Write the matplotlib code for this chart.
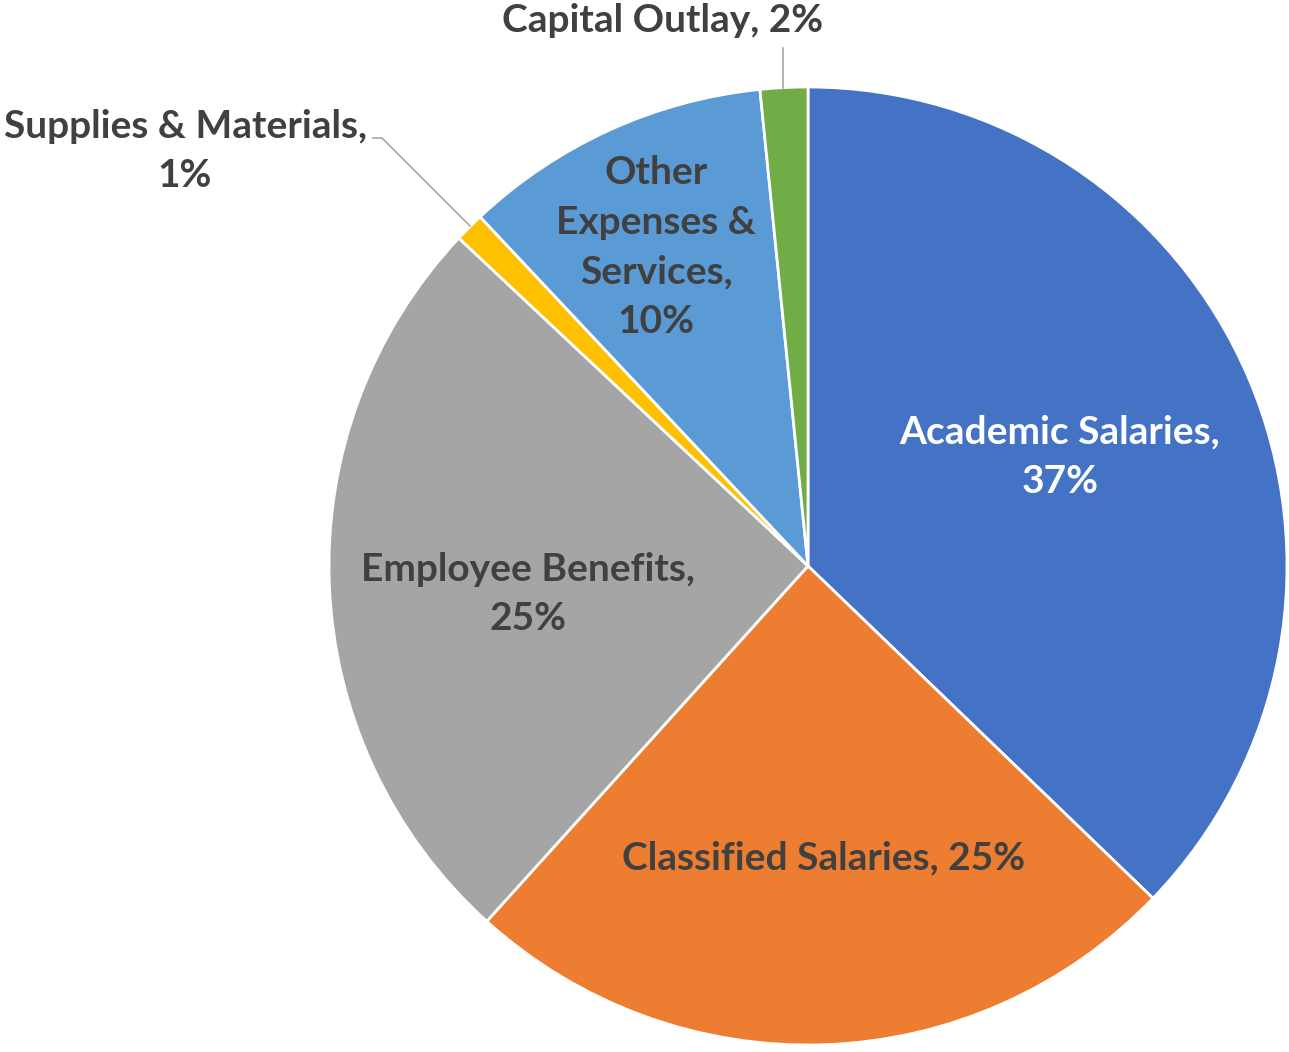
import matplotlib
matplotlib.use("Agg")
import matplotlib.pyplot as plt

categories = ["Academic Salaries", "Classified Salaries", "Employee Benefits",
              "Supplies & Materials", "Other Expenses & Services", "Capital Outlay"]
values = [37.2, 24.5, 25.3, 1.0, 10.4, 1.6]
pct_labels = ["37%", "25%", "25%", "1%", "10%", "2%"]
label_texts = ["Academic Salaries,\n37%", "Classified Salaries, 25%",
               "Employee Benefits,\n25%", "Supplies & Materials,\n1%",
               "Other\nExpenses &\nServices,\n10%", "Capital Outlay, 2%"]
colors = ["#4472C4", "#ED7D31", "#A5A5A5", "#FFC000", "#5B9BD5", "#70AD47"]
text_colors = ["white", "#404040", "#404040", "#404040", "#404040", "#404040"]

W, H = 1289, 1052
CX, CY, R = 808, 566, 479

def px(x, y):
    return ((x - CX) / R, (CY - y) / R)

label_pos_px = [(1060, 457), (824, 858), (528, 594), (185, 151), (656, 247), (663, 20)]

fig = plt.figure(figsize=(W / 100, H / 100), dpi=100)
ax = fig.add_axes([0, 0, 1, 1])

ax.pie(values, colors=colors, startangle=90, counterclock=False, radius=1.0,
       wedgeprops=dict(edgecolor="white", linewidth=2))
ax.set_xlim(-CX / R, (W - CX) / R)
ax.set_ylim((CY - H) / R, CY / R)
ax.set_aspect("equal")
ax.axis("off")

for txt, pos, tc in zip(label_texts, label_pos_px, text_colors):
    x, y = px(*pos)
    ax.text(x, y, txt, ha="center", va="center", color=tc, fontsize=28,
            fontweight="bold", family=["Lato", "DejaVu Sans"], linespacing=1.5)

# leader lines
lx, ly = zip(*[px(373, 138), px(382, 138), px(470, 226)])
ax.plot(lx, ly, color="#A6A6A6", lw=1.2)
lx, ly = zip(*[px(783, 48), px(783, 88)])
ax.plot(lx, ly, color="#A6A6A6", lw=1.2)

fig.savefig("out.png", dpi=100, facecolor="white")
